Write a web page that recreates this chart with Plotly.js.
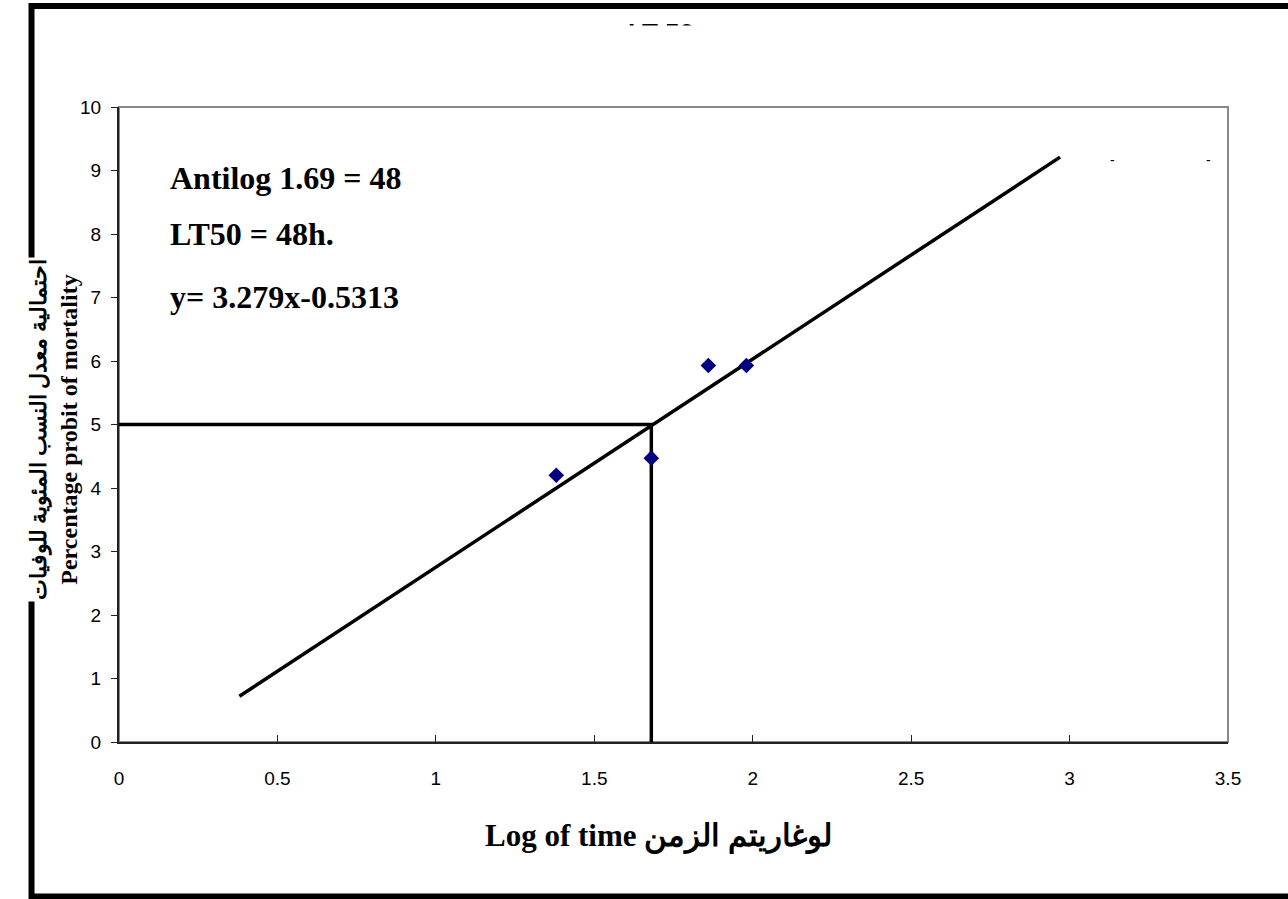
<!DOCTYPE html>
<html>
<head>
<meta charset="utf-8">
<script src="https://cdn.plot.ly/plotly-3.0.1.min.js"></script>
<style>html,body{margin:0;padding:0;background:#fff;}#chart{width:1288px;height:899px;}</style>
</head>
<body>
<div id="chart"></div>
<script>
// Observed data points (log time, probit)
const logTime = [1.38, 1.68, 1.86, 1.98];
const probit = [4.2, 4.47, 5.93, 5.93];
// Regression line endpoints
const fitX = [0.38, 2.97];
const fitY = [0.72, 9.21];
// LT50 guide lines
const guideX = [0, 1.68, 1.68];
const guideY = [5, 5, 0];
// Tick values
const xTicks = [0, 0.5, 1, 1.5, 2, 2.5, 3, 3.5];
const xTickText = ['0', '0.5', '1', '1.5', '2', '2.5', '3', '3.5'];
const yTicks = [0, 1, 2, 3, 4, 5, 6, 7, 8, 9, 10];
// Text
const notes = ['Antilog 1.69 = 48', 'LT50 = 48h.', 'y= 3.279x-0.5313'];
const noteY = [8.88, 8.0, 7.01];
const xTitle = 'Log of time لوغاريتم الزمن';
const yTitleAr = 'احتمالية معدل النسب المئوية للوفيات';
const yTitleEn = 'Percentage probit of mortality';

const serif = '"Liberation Serif", "Times New Roman", "DejaVu Serif", serif';
const sans = '"Liberation Sans", Arial, sans-serif';

const traces = [
  {x: guideX, y: guideY, mode: 'lines', line: {color: '#000', width: 3.5}, hoverinfo: 'skip', showlegend: false},
  {x: fitX, y: fitY, mode: 'lines', line: {color: '#000', width: 3.5}, showlegend: false},
  {x: logTime, y: probit, mode: 'markers', marker: {symbol: 'diamond', size: 12, color: '#000080'}, showlegend: false}
];

const annotations = notes.map((t, i) => ({
  x: 0.155, y: noteY[i], xref: 'x', yref: 'y', xanchor: 'left', yanchor: 'middle',
  text: '<b>' + t + '</b>', showarrow: false, font: {family: serif, size: 32, color: '#000'}
}));
annotations.push({
  xref: 'paper', yref: 'paper', x: (54 - 119) / 1109, y: (742 - 430) / 635,
  xanchor: 'center', yanchor: 'middle', textangle: -90, showarrow: false,
  bgcolor: '#fff',
  text: '<b><span style="font-size:22px">' + yTitleAr + '</span></b><br><b>' + yTitleEn + '</b>',
  font: {family: serif, size: 24, color: '#000'}
});
annotations.push({
  xref: 'paper', yref: 'paper', x: (658 - 119) / 1109, y: (742 - 836) / 635,
  xanchor: 'center', yanchor: 'middle', showarrow: false,
  text: '<b>' + xTitle + '</b>',
  font: {family: serif, size: 31, color: '#000'}
});
// title fragment at the top, mostly hidden
annotations.push({
  xref: 'paper', yref: 'paper', x: (661 - 119) / 1109, y: (742 - 16) / 635,
  xanchor: 'center', yanchor: 'top', showarrow: false,
  text: '<b>LT 50</b>', font: {family: sans, size: 26, color: '#000'}
});
annotations.push({
  xref: 'paper', yref: 'paper', x: (661 - 119) / 1109, y: (742 - 25) / 635,
  xanchor: 'center', yanchor: 'top', showarrow: false,
  width: 160, height: 36, bgcolor: '#fff', borderpad: 0,
  text: ' ', font: {family: sans, size: 20, color: '#fff'}
});
// tiny dash fragments at top right
[1112, 1208].forEach(px => annotations.push({
  xref: 'paper', yref: 'paper', x: (px - 119) / 1109, y: (742 - 160) / 635,
  xanchor: 'center', yanchor: 'middle', showarrow: false,
  text: '-', font: {family: sans, size: 14, color: '#000'}
}));

const layout = {
  width: 1288, height: 899,
  margin: {l: 119, r: 60, t: 107, b: 157},
  paper_bgcolor: '#fff', plot_bgcolor: '#fff',
  xaxis: {
    range: [0, 3.5], tickvals: xTicks, ticktext: xTickText,
    ticks: 'inside', ticklen: 7, tickcolor: '#222', tickwidth: 1,
    showline: true, linecolor: '#222', linewidth: 2,
    showgrid: false, zeroline: false,
    ticklabelstandoff: 18,
    tickfont: {family: sans, size: 19, color: '#000'}
  },
  yaxis: {
    range: [0, 10], tickvals: yTicks,
    ticks: 'outside', ticklen: 6, tickcolor: '#222', tickwidth: 1,
    showline: true, linecolor: '#222', linewidth: 2,
    showgrid: false, zeroline: false,
    ticklabelstandoff: 6,
    tickfont: {family: sans, size: 19, color: '#000'}
  },
  shapes: [
    {type: 'rect', xref: 'paper', yref: 'paper', x0: 0, x1: 1, y0: 0, y1: 1,
     line: {color: '#888', width: 2}, layer: 'below'},
    {type: 'rect', xref: 'paper', yref: 'paper',
     x0: (31.5 - 119) / 1109, x1: 1.2, y0: (742 - 896.5) / 635, y1: (742 - 6) / 635,
     line: {color: '#000', width: 6}, layer: 'below'}
  ],
  annotations: annotations,
  showlegend: false
};

Plotly.newPlot('chart', traces, layout, {displayModeBar: false, staticPlot: true});
</script>
</body>
</html>
